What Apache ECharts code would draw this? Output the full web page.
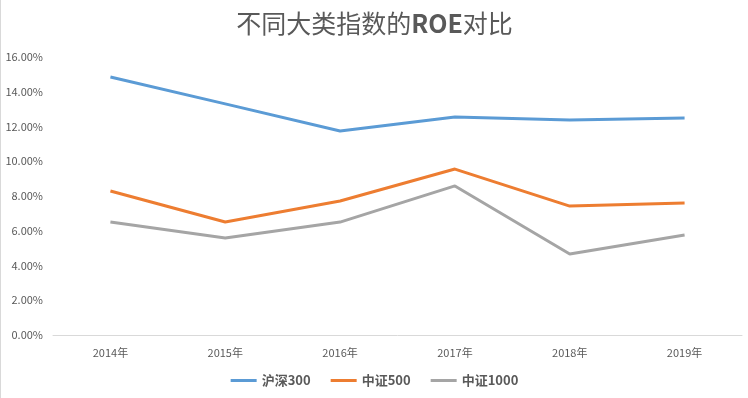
<!DOCTYPE html>
<html>
<head>
<meta charset="utf-8">
<script src="https://cdn.jsdelivr.net/npm/echarts@6/dist/echarts.min.js"></script>
<style>
  html, body { margin: 0; padding: 0; background: #fff; }
  #chart { width: 748px; height: 398px; box-sizing: border-box; border-left: 1px solid #d9d9d9; }
</style>
</head>
<body>
<div id="chart"></div>
<script>
// 年份
const years = ["2014年", "2015年", "2016年", "2017年", "2018年", "2019年"];
// ROE (%)
const hs300 = [14.85, 13.3, 11.74, 12.55, 12.37, 12.49];
const zz500 = [8.29, 6.5, 7.71, 9.55, 7.42, 7.6];
const zz1000 = [6.5, 5.58, 6.5, 8.58, 4.66, 5.76];

const chart = echarts.init(document.getElementById("chart"));
const font = "'Noto Sans CJK SC', 'Open Sans', sans-serif";

const option = {
  animation: false,
  title: {
    text: "不同大类指数的{b|ROE}对比",
    left: "center",
    top: 6,
    textStyle: {
      fontFamily: font, fontSize: 25, fontWeight: "normal", color: "#595959",
      rich: { b: { fontFamily: font, fontSize: 25, fontWeight: "bold", color: "#595959" } }
    }
  },
  legend: {
    bottom: 6,
    itemWidth: 26,
    itemHeight: 3,
    itemGap: 20,
    icon: "rect",
    textStyle: { fontFamily: font, fontSize: 13, fontWeight: "bold", color: "#595959" },
    data: ["沪深300", "中证500", "中证1000"]
  },
  grid: { left: 52, right: 6, top: 57, bottom: 63 },
  xAxis: {
    type: "category",
    data: years,
    axisLine: { lineStyle: { color: "#d9d9d9" } },
    axisTick: { show: false },
    axisLabel: { fontFamily: font, fontSize: 11, color: "#595959", margin: 12 }
  },
  yAxis: {
    type: "value",
    min: 0,
    max: 16,
    interval: 2,
    splitLine: { show: false },
    axisLine: { show: false },
    axisTick: { show: false },
    axisLabel: {
      fontFamily: font, fontSize: 11, color: "#595959", margin: 10,
      formatter: v => v.toFixed(2) + "%"
    }
  },
  series: [
    { name: "沪深300", type: "line", data: hs300, symbol: "none", lineStyle: { width: 3, color: "#5b9bd5" }, itemStyle: { color: "#5b9bd5" } },
    { name: "中证500", type: "line", data: zz500, symbol: "none", lineStyle: { width: 3, color: "#ed7d31" }, itemStyle: { color: "#ed7d31" } },
    { name: "中证1000", type: "line", data: zz1000, symbol: "none", lineStyle: { width: 3, color: "#a5a5a5" }, itemStyle: { color: "#a5a5a5" } }
  ]
};
chart.setOption(option);
</script>
</body>
</html>
